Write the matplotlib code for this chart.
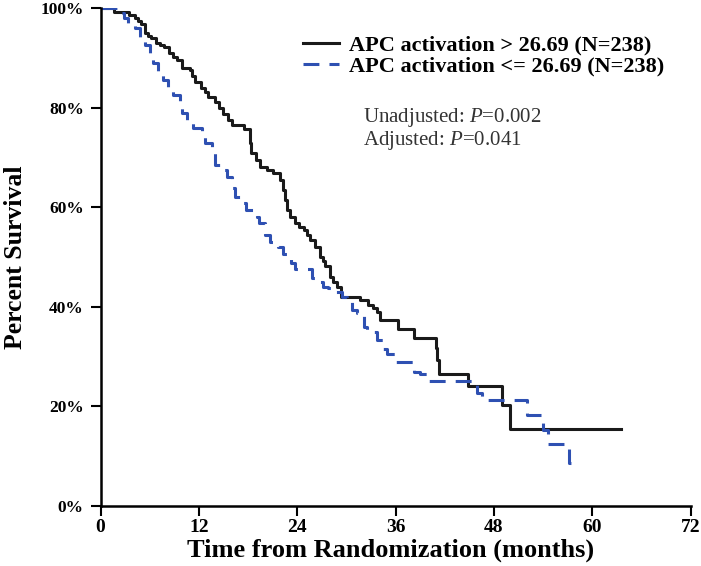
"""
Kaplan-Meier style survival curves by APC activation group.
"""
from matplotlib import pyplot as plt

# survival steps (months, percent surviving after the step)
HIGH_T = [0, 1.7, 3.5, 4.2, 4.6, 5.0, 5.4, 5.8, 6.2, 6.8, 7.3, 7.8, 8.4, 8.9, 9.3,
          9.9, 10.9, 11.2, 11.5, 12.3, 12.7, 13.1, 14.0, 14.5, 15.0, 15.5, 16.0,
          17.5, 18.2, 18.3, 18.4, 19.0, 19.5, 20.3, 21.1, 21.9, 22.3, 22.5, 22.7,
          23.1, 23.7, 24.2, 24.8, 25.2, 25.6, 26.2, 26.8, 27.1, 27.4, 28.0, 28.4,
          28.8, 29.3, 31.7, 32.7, 33.3, 33.7, 34.1, 36.3, 38.3, 40.9, 41.1, 41.3,
          44.9, 49.0, 50.0, 63.5]
HIGH_S = [100, 99.1, 98.6, 98.0, 97.4, 96.7, 95.0, 94.4, 93.9, 92.9, 92.5, 92.2,
          90.9, 90.2, 89.6, 87.9, 87.6, 86.4, 85.2, 83.9, 83.1, 82.2, 81.2, 80.0,
          78.8, 77.6, 76.5, 75.8, 74.8, 72.8, 70.8, 69.4, 68.1, 67.4, 66.8, 65.5,
          63.5, 61.4, 59.4, 58.1, 56.8, 56.1, 55.4, 54.4, 53.4, 52.1, 50.1, 49.1,
          48.1, 46.0, 45.0, 44.0, 41.9, 41.4, 40.4, 39.7, 39.0, 37.3, 35.6, 33.7,
          31.7, 29.3, 26.6, 24.1, 20.3, 15.5, 15.5]

LOW_T = [0, 2.3, 2.9, 3.3, 4.2, 4.8, 5.4, 6.0, 6.4, 7.0, 7.6, 8.2, 8.8, 9.7, 10.0,
         10.6, 11.3, 12.4, 12.7, 13.6, 14.0, 14.8, 15.4, 16.0, 16.4, 17.4, 17.8,
         19.1, 19.3, 20.1, 20.7, 21.7, 22.3, 23.3, 23.7, 25.8, 26.5, 27.2, 27.8,
         28.7, 29.5, 30.1, 30.7, 31.3, 32.1, 32.5, 33.7, 34.5, 35.0, 36.0, 38.3,
         39.0, 39.9, 46.0, 46.6, 52.0, 54.0, 54.6, 57.2, 58.3]
LOW_S = [100, 99.0, 98.0, 96.6, 96.0, 94.0, 92.6, 90.6, 89.0, 87.0, 85.5, 83.5,
         82.5, 80.5, 79.0, 76.9, 75.9, 74.0, 72.9, 70.9, 68.5, 67.5, 66.1, 63.8,
         62.1, 60.8, 59.4, 58.1, 56.8, 54.4, 53.1, 52.1, 50.7, 48.7, 47.5, 45.8,
         44.9, 44.0, 43.8, 42.9, 42.0, 41.8, 39.4, 38.8, 36.0, 35.0, 33.3, 31.5,
         30.5, 29.0, 27.0, 26.5, 25.2, 22.6, 21.3, 18.2, 15.3, 12.5, 8.6, 8.6]

HIGH_LABEL = "APC activation > 26.69 (N=238)"
LOW_LABEL = "APC activation <= 26.69 (N=238)"
X_TICKS = [0, 12, 24, 36, 48, 60, 72]
Y_TICKS = [0, 20, 40, 60, 80, 100]
Y_TICKLABELS = [f"{v}%" for v in Y_TICKS]
P_TEXT = ["Unadjusted: $P$=0.002", "Adjusted: $P$=0.041"]

BLUE = '#2e50b2'
SERIF = 'Liberation Serif'

plt.rcParams['font.family'] = SERIF
plt.rcParams['mathtext.fontset'] = 'custom'
plt.rcParams['mathtext.rm'] = SERIF
plt.rcParams['mathtext.it'] = SERIF + ':italic'

fig = plt.figure(figsize=(7.01, 5.66), dpi=100)
ax = fig.add_axes([100.5 / 701, 1 - 506 / 566, 590 / 701, 498 / 566])

ax.step(HIGH_T, HIGH_S, where='post', color='#1a1a1a', lw=2.2, label=HIGH_LABEL)
ax.step(LOW_T, LOW_S, where='post', color=BLUE, lw=2.2, dashes=(5.2, 3.3),
        dash_capstyle='butt', label=LOW_LABEL)

ax.set_xlim(0, 72)
ax.set_ylim(0, 100)
ax.set_xticks(X_TICKS)
ax.set_yticks(Y_TICKS)
ax.set_yticklabels(Y_TICKLABELS)
for side in ['top', 'right']:
    ax.spines[side].set_visible(False)
for side in ['left', 'bottom']:
    ax.spines[side].set_linewidth(1.8)
ax.tick_params(direction='out', length=7, width=1.5)
ax.tick_params(axis='x', labelsize=14, pad=2)
ax.tick_params(axis='y', labelsize=12.5, pad=5)
for lab in ax.get_xticklabels() + ax.get_yticklabels():
    lab.set_fontweight('bold')

ax.set_xlabel('Time from Randomization (months)', fontsize=19, fontweight='bold')
ax.xaxis.set_label_coords(0.4915, -0.066)
ax.set_ylabel('Percent Survival', fontsize=18.5, fontweight='bold')
ax.yaxis.set_label_coords(-0.125, 0.5)

ax.legend(loc='upper left', bbox_to_anchor=(303 / 701, 1 - 35 / 566),
          bbox_transform=fig.transFigure, frameon=False, borderpad=0,
          borderaxespad=0, handlelength=1.62, handletextpad=0.45,
          labelspacing=0.02, prop={'family': SERIF, 'weight': 'bold', 'size': 16})

fig.text(363 / 701, 1 - 122 / 566, P_TEXT[0], fontsize=15, va='baseline', color='#333333')
fig.text(363 / 701, 1 - 145 / 566, P_TEXT[1], fontsize=15, va='baseline', color='#333333')

fig.savefig('out.png', dpi=100)
